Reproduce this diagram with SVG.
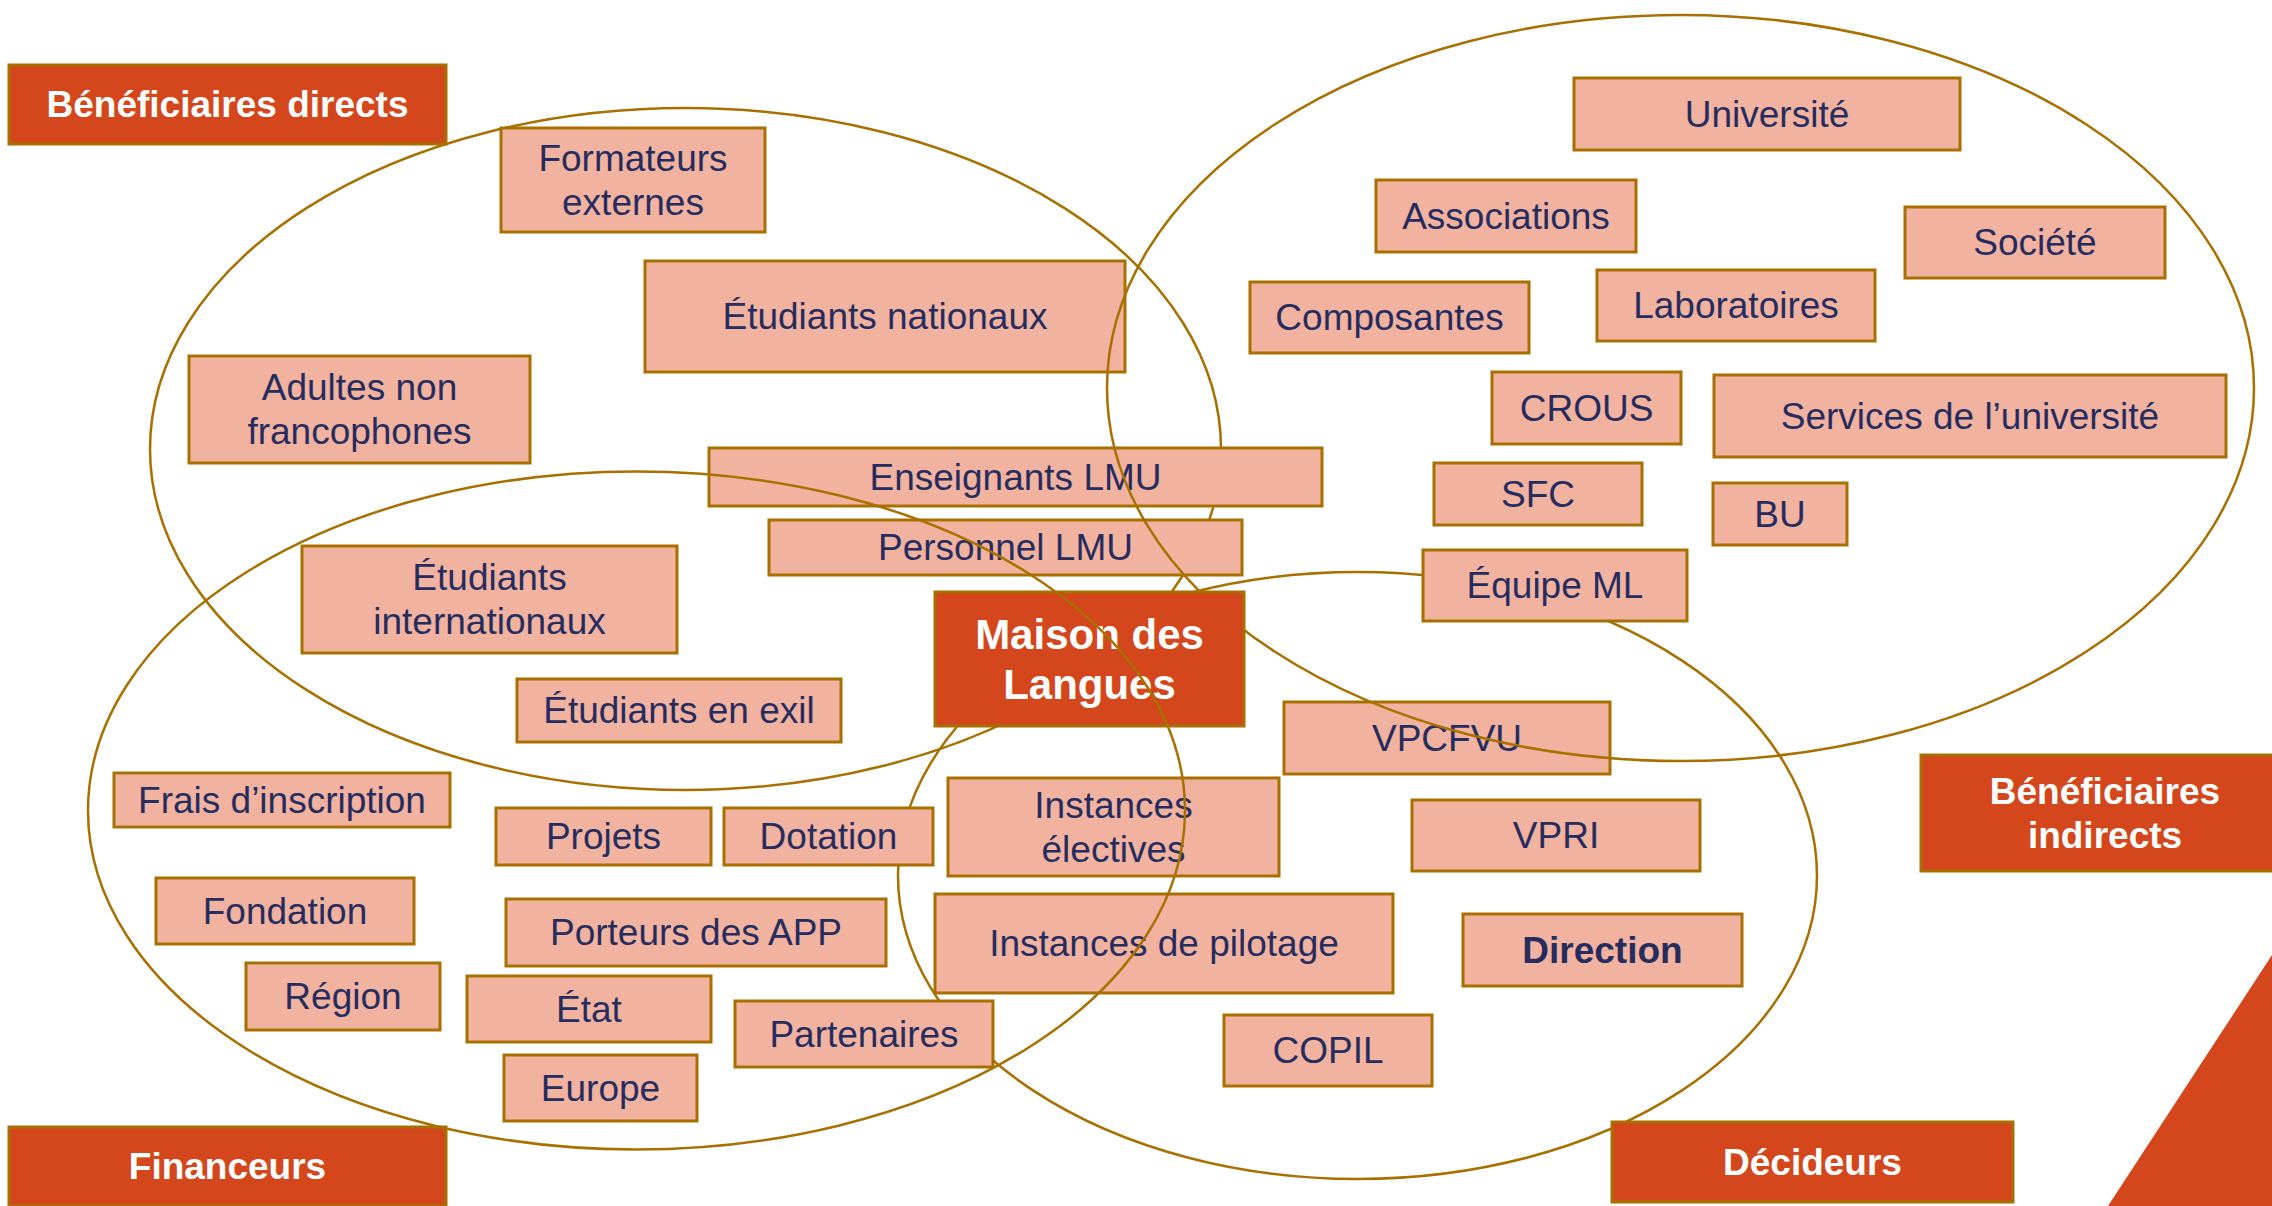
<svg xmlns="http://www.w3.org/2000/svg" width="2272" height="1206" viewBox="0 0 2272 1206">
<style>
.n rect{fill:#F2B2A0;stroke:#A87000;stroke-width:3}
.n text{font-family:"Liberation Sans",Arial,sans-serif;font-size:37px;fill:#262D5E;text-anchor:middle}
.l rect{fill:#D4461C;stroke:#A87000;stroke-width:3}
.l text{font-family:"Liberation Sans",Arial,sans-serif;font-size:37px;font-weight:bold;fill:#FFFFFF;text-anchor:middle}
.set{fill:none;stroke:#A87000;stroke-width:2.5}
.b{font-weight:bold}
</style>
<rect x="0" y="0" width="2272" height="1206" fill="#FFFFFF"/>
<polygon points="2108,1206 2272,955 2272,1206" fill="#D4461C"/>
<g id="sets-back">
<ellipse id="set-directs" class="set" cx="685.5" cy="449" rx="535.5" ry="341"/>
<ellipse id="set-decideurs" class="set" cx="1357.5" cy="875.5" rx="459.5" ry="303.5"/>
</g>
<g id="label-directs" class="l"><rect x="9" y="65" width="437" height="79"/><text x="227.5" y="117.3">Bénéficiaires directs</text></g>
<g id="label-indirects" class="l"><rect x="1921" y="755" width="370" height="116"/><text x="2105" y="803.8">Bénéficiaires</text><text x="2105" y="847.8">indirects</text></g>
<g id="label-financeurs" class="l"><rect x="9" y="1127" width="437" height="79"/><text x="227.5" y="1179.3">Financeurs</text></g>
<g id="label-decideurs" class="l"><rect x="1612" y="1122" width="401" height="80"/><text x="1812.5" y="1174.8">Décideurs</text></g>

<g id="formateurs" class="n"><rect x="501" y="128" width="264" height="104"/><text x="633" y="170.8">Formateurs</text><text x="633" y="214.8">externes</text></g>
<g id="etudiants-nationaux" class="n"><rect x="645" y="261" width="480" height="111"/><text x="885" y="329.3">Étudiants nationaux</text></g>
<g id="adultes" class="n"><rect x="189" y="356" width="341" height="107"/><text x="359.5" y="400.3">Adultes non</text><text x="359.5" y="444.3">francophones</text></g>
<g id="enseignants" class="n"><rect x="709" y="448" width="613" height="58"/><text x="1015.5" y="489.8">Enseignants LMU</text></g>
<g id="personnel" class="n"><rect x="769" y="520" width="473" height="55"/><text x="1005.5" y="560.3">Personnel LMU</text></g>
<g id="etudiants-internationaux" class="n"><rect x="302" y="546" width="375" height="107"/><text x="489.5" y="590.3">Étudiants</text><text x="489.5" y="634.3">internationaux</text></g>
<g id="etudiants-exil" class="n"><rect x="517" y="679" width="324" height="63"/><text x="679" y="723.3">Étudiants en exil</text></g>
<g id="frais" class="n"><rect x="114" y="773" width="336" height="54"/><text x="282" y="812.8">Frais d’inscription</text></g>
<g id="projets" class="n"><rect x="496" y="808" width="215" height="57"/><text x="603.5" y="849.3">Projets</text></g>
<g id="dotation" class="n"><rect x="724" y="808" width="209" height="57"/><text x="828.5" y="849.3">Dotation</text></g>
<g id="fondation" class="n"><rect x="156" y="878" width="258" height="66"/><text x="285" y="923.8">Fondation</text></g>
<g id="porteurs" class="n"><rect x="506" y="899" width="380" height="67"/><text x="696" y="945.3">Porteurs des APP</text></g>
<g id="region" class="n"><rect x="246" y="963" width="194" height="67"/><text x="343" y="1009.3">Région</text></g>
<g id="etat" class="n"><rect x="467" y="976" width="244" height="66"/><text x="589" y="1021.8">État</text></g>
<g id="partenaires" class="n"><rect x="735" y="1001" width="258" height="66"/><text x="864" y="1046.8">Partenaires</text></g>
<g id="europe" class="n"><rect x="504" y="1055" width="193" height="66"/><text x="600.5" y="1100.8">Europe</text></g>
<g id="instances-electives" class="n"><rect x="948" y="778" width="331" height="98"/><text x="1113.5" y="817.8">Instances</text><text x="1113.5" y="861.8">électives</text></g>
<g id="instances-pilotage" class="n"><rect x="935" y="894" width="458" height="99"/><text x="1164" y="956.3">Instances de pilotage</text></g>
<g id="vpcfvu" class="n"><rect x="1284" y="702" width="326" height="72"/><text x="1447" y="750.8">VPCFVU</text></g>
<g id="vpri" class="n"><rect x="1412" y="800" width="288" height="71"/><text x="1556" y="848.3">VPRI</text></g>
<g id="direction" class="n"><rect x="1463" y="914" width="279" height="72"/><text class="b" x="1602.5" y="962.8">Direction</text></g>
<g id="copil" class="n"><rect x="1224" y="1015" width="208" height="71"/><text x="1328" y="1063.3">COPIL</text></g>
<g id="equipe-ml" class="n"><rect x="1423" y="550" width="264" height="71"/><text x="1555" y="598.3">Équipe ML</text></g>
<g id="universite" class="n"><rect x="1574" y="78" width="386" height="72"/><text x="1767" y="126.8">Université</text></g>
<g id="associations" class="n"><rect x="1376" y="180" width="260" height="72"/><text x="1506" y="228.8">Associations</text></g>
<g id="societe" class="n"><rect x="1905" y="207" width="260" height="71"/><text x="2035" y="255.3">Société</text></g>
<g id="composantes" class="n"><rect x="1250" y="282" width="279" height="71"/><text x="1389.5" y="330.3">Composantes</text></g>
<g id="laboratoires" class="n"><rect x="1597" y="270" width="278" height="71"/><text x="1736" y="318.3">Laboratoires</text></g>
<g id="crous" class="n"><rect x="1492" y="372" width="189" height="72"/><text x="1586.5" y="420.8">CROUS</text></g>
<g id="services" class="n"><rect x="1714" y="375" width="512" height="82"/><text x="1970" y="428.8">Services de l’université</text></g>
<g id="sfc" class="n"><rect x="1434" y="463" width="208" height="62"/><text x="1538" y="506.8">SFC</text></g>
<g id="bu" class="n"><rect x="1713" y="483" width="134" height="62"/><text x="1780" y="526.8">BU</text></g>

<g id="sets-mid">
<ellipse id="set-indirects" class="set" cx="1680.5" cy="388" rx="573.5" ry="373"/>
</g>
<g id="maison" class="l"><rect x="935" y="592" width="309" height="134"/><text x="1089.5" y="648.5" style="font-size:42px">Maison des</text><text x="1089.5" y="698.5" style="font-size:42px">Langues</text></g>
<g id="sets-front">
<ellipse id="set-financeurs" class="set" cx="636.5" cy="810.5" rx="548.5" ry="339"/>
</g>
</svg>
